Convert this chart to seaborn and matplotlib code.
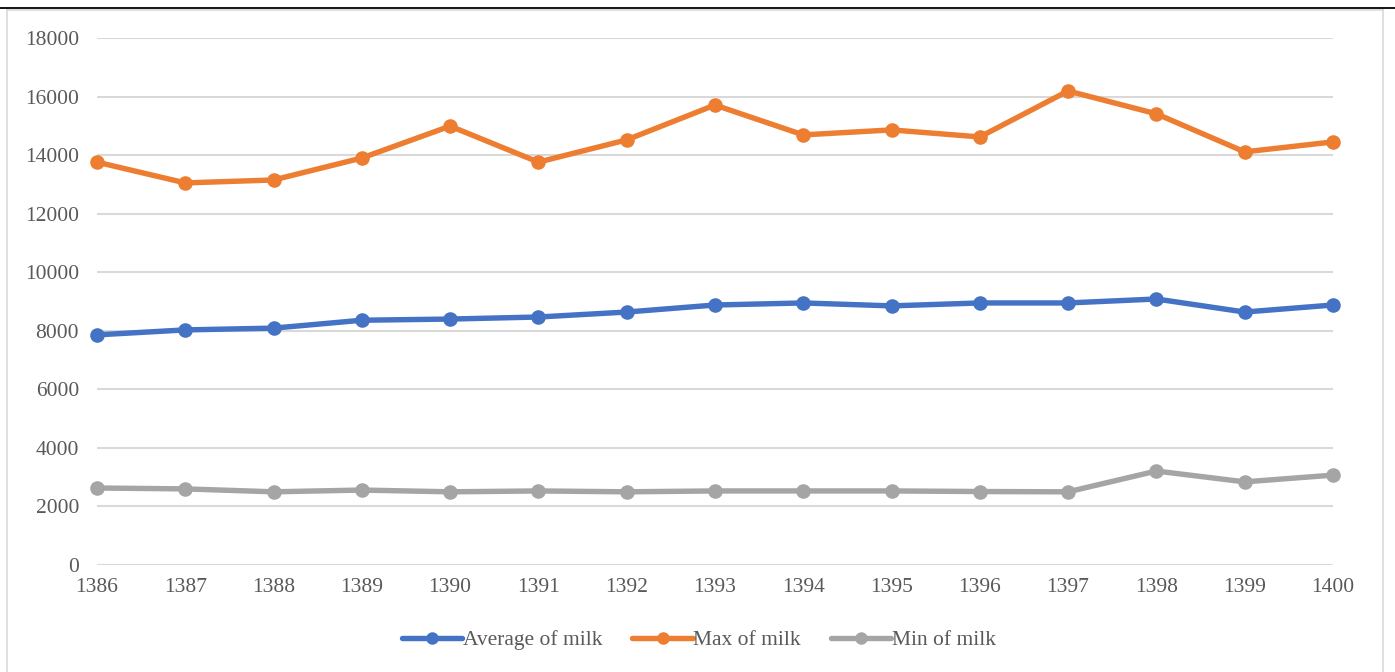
import matplotlib
matplotlib.use("Agg")
import matplotlib.pyplot as plt
from matplotlib.lines import Line2D
import seaborn as sns
import pandas as pd

years = [1386, 1387, 1388, 1389, 1390, 1391, 1392, 1393, 1394, 1395, 1396, 1397, 1398, 1399, 1400]
avg_milk = [7860, 8030, 8090, 8360, 8400, 8470, 8640, 8880, 8950, 8850, 8950, 8950, 9085, 8640, 8880]
max_milk = [13760, 13050, 13150, 13900, 14990, 13760, 14520, 15710, 14690, 14860, 14620, 16190, 15410, 14110, 14450]
min_milk = [2630, 2600, 2500, 2560, 2500, 2530, 2500, 2530, 2530, 2530, 2510, 2500, 3210, 2840, 3070]
series_names = ["Average of milk", "Max of milk", "Min of milk"]
y_ticks = [0, 2000, 4000, 6000, 8000, 10000, 12000, 14000, 16000, 18000]

colors = ["#4472C4", "#ED7D31", "#A5A5A5"]

df = pd.concat([
    pd.DataFrame({"year": years, "value": vals, "series": name})
    for name, vals in zip(series_names, [avg_milk, max_milk, min_milk])
])

sns.set_style("white")
plt.rcParams["font.family"] = ["Liberation Serif", "DejaVu Serif"]

fig = plt.figure(figsize=(13.95, 6.72), dpi=100)
ax = fig.add_axes([0.0695, 0.1592, 0.886, 0.7843])

sns.lineplot(data=df, x="year", y="value", hue="series", palette=colors,
             hue_order=series_names, marker="o", markersize=10.5, linewidth=3.9,
             markeredgewidth=0, ax=ax, legend=False)
for line in ax.lines:
    line.set_clip_on(False)

ax.set_xlim(years[0], years[-1])
ax.set_ylim(0, 18000)
ax.set_yticks(y_ticks)
ax.set_xticks(years)
ax.set_xticklabels([str(y) for y in years])
ax.set_xlabel("")
ax.set_ylabel("")
for s in ax.spines.values():
    s.set_visible(False)
ax.grid(axis="y", color="#D9D9D9", linewidth=1.5)
ax.set_axisbelow(True)
ax.tick_params(axis="both", length=0, labelsize=15.5, labelcolor="#595959")
ax.tick_params(axis="y", pad=13)
ax.tick_params(axis="x", pad=9)

handles = [Line2D([0], [0], color=c, lw=3.9, marker="o", markersize=9, markeredgewidth=0)
           for c in colors]
fig.legend(handles, series_names, loc="center", bbox_to_anchor=(0.501, 0.047), ncol=3,
           frameon=False, fontsize=15.5, handlelength=2.8, handletextpad=0.02,
           columnspacing=1.4, labelcolor="#595959")

# chart frame
frame_color = "#D9D9D9"
fig.add_artist(Line2D([7 / 1395, 7 / 1395], [0, 1 - 9 / 672], color=frame_color, lw=1.2))
fig.add_artist(Line2D([1383 / 1395, 1383 / 1395], [0, 1 - 9 / 672], color=frame_color, lw=1.2))
fig.add_artist(Line2D([7 / 1395, 1383 / 1395], [1 - 10 / 672, 1 - 10 / 672], color=frame_color, lw=1.2))
fig.add_artist(Line2D([0, 1], [1 - 8 / 672, 1 - 8 / 672], color="black", lw=1.3))

fig.savefig("out.png", dpi=100)
